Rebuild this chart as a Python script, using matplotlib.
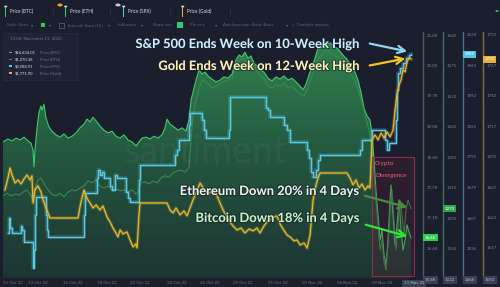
import numpy as np
import matplotlib
matplotlib.use("Agg")
import matplotlib.pyplot as plt
import matplotlib.patheffects as pe
import matplotlib.transforms as mtrans
from matplotlib.colors import LinearSegmentedColormap
from matplotlib.patches import Rectangle, FancyArrowPatch, Circle

plt.rcParams['font.family'] = ['Lato', 'DejaVu Sans']

# ---- data (x = days after 10 Oct 2022 00:00) ----
btc_day = [0.70, 1.08, 1.39, 1.70, 2.00, 2.31, 2.62, 2.85, 3.00, 3.08,
           3.15, 3.31, 3.46, 3.61, 3.69, 3.84, 4.00, 4.22, 4.45, 4.76,
           5.07, 5.37, 5.68, 5.99, 6.29, 6.60, 6.91, 7.14, 7.37, 7.60,
           7.83, 8.13, 8.44, 8.75, 9.05, 9.36, 9.67, 9.97, 10.28, 10.59,
           10.89, 11.05, 11.35, 11.66, 11.96, 12.27, 12.58, 12.88, 13.11, 13.27,
           13.50, 13.80, 14.11, 14.42, 14.72, 14.95, 15.11, 15.26, 15.49, 15.72,
           15.95, 16.18, 16.41, 16.72, 17.02, 17.33, 17.64, 17.94, 18.25, 18.55,
           18.78, 19.01, 19.24, 19.47, 19.70, 19.93, 20.16, 20.39, 20.70, 21.01,
           21.31, 21.62, 21.93, 22.23, 22.54, 22.85, 23.15, 23.46, 23.69, 23.92,
           24.15, 24.38, 24.61, 24.84, 25.14, 25.45, 25.76, 26.06, 26.37, 26.68,
           26.98, 27.29, 27.60, 27.90, 28.13, 28.36, 28.59, 28.82, 28.98, 29.13,
           29.28, 29.44, 29.59, 29.74, 29.90, 30.05, 30.20, 30.36, 30.43, 30.59,
           30.74, 30.89, 31.05, 31.20, 31.35, 31.51, 31.66, 31.81, 31.97]
btc_k = [18.70, 18.76, 18.72, 18.78, 18.74, 18.80, 18.72, 18.67, 18.52, 18.16,
         18.52, 19.00, 19.34, 19.47, 19.38, 19.51, 19.21, 19.02, 18.93, 18.85,
         18.80, 18.87, 18.78, 18.82, 18.89, 19.00, 19.08, 19.19, 19.13, 19.23,
         19.15, 19.04, 18.95, 18.89, 18.93, 18.82, 18.78, 18.85, 18.74, 18.70,
         18.61, 18.67, 18.78, 18.80, 18.76, 18.82, 18.78, 18.85, 19.00, 19.19,
         19.08, 19.02, 18.95, 19.00, 18.93, 19.17, 19.60, 19.77, 20.03, 20.25,
         20.16, 20.20, 20.12, 20.05, 19.99, 20.03, 20.10, 20.07, 20.16, 20.46,
         20.57, 20.53, 20.63, 20.50, 20.55, 20.40, 20.33, 20.25, 20.20, 20.07,
         20.01, 20.10, 20.05, 20.12, 20.03, 20.07, 19.99, 19.90, 19.82, 19.94,
         20.14, 20.33, 20.50, 20.72, 20.79, 20.81, 20.83, 20.76, 20.70, 20.59,
         20.50, 20.38, 20.25, 20.03, 19.77, 19.43, 19.26, 19.17, 18.85, 18.31,
         17.66, 17.12, 16.58, 16.80, 16.26, 16.05, 16.58, 17.45, 17.77, 17.12,
         16.48, 16.91, 17.45, 16.80, 16.37, 16.58, 16.91, 16.76, 16.63]

eth_day = [0.70, 1.01, 1.31, 1.62, 1.93, 2.23, 2.54, 2.77, 3.00, 3.15,
           3.38, 3.61, 3.84, 4.15, 4.45, 4.76, 5.07, 5.37, 5.68, 5.99,
           6.29, 6.60, 6.91, 7.21, 7.52, 7.83, 8.13, 8.44, 8.75, 9.05,
           9.36, 9.67, 9.97, 10.28, 10.59, 10.89, 11.05, 11.28, 11.58, 11.89,
           12.19, 12.50, 12.81, 13.11, 13.42, 13.73, 14.03, 14.34, 14.65, 14.95,
           15.11, 15.26, 15.49, 15.72, 15.95, 16.18, 16.41, 16.72, 17.02, 17.33,
           17.64, 17.94, 18.25, 18.55, 18.86, 19.17, 19.47, 19.78, 20.09, 20.39,
           20.70, 21.01, 21.31, 21.62, 21.93, 22.23, 22.54, 22.85, 23.15, 23.46,
           23.77, 24.07, 24.38, 24.69, 24.99, 25.30, 25.60, 25.91, 26.22, 26.52,
           26.83, 27.14, 27.44, 27.75, 28.06, 28.36, 28.59, 28.82, 28.98, 29.13,
           29.28, 29.44, 29.59, 29.74, 29.90, 30.05, 30.20, 30.36, 30.51, 30.66,
           30.82, 30.97, 31.12, 31.28, 31.43, 31.58, 31.74, 31.97]
eth_usd = [1297, 1303, 1297, 1301, 1299, 1305, 1310, 1301, 1288, 1314,
           1331, 1335, 1323, 1310, 1301, 1297, 1303, 1295, 1305, 1310,
           1308, 1314, 1318, 1329, 1325, 1331, 1318, 1314, 1318, 1310,
           1312, 1308, 1310, 1305, 1310, 1301, 1305, 1325, 1327, 1323,
           1329, 1325, 1335, 1340, 1337, 1346, 1350, 1352, 1348, 1357,
           1416, 1470, 1502, 1527, 1544, 1540, 1536, 1527, 1531, 1536,
           1540, 1544, 1548, 1574, 1587, 1591, 1578, 1582, 1565, 1553,
           1548, 1531, 1527, 1533, 1531, 1538, 1527, 1531, 1523, 1514,
           1510, 1527, 1553, 1578, 1595, 1604, 1608, 1600, 1595, 1587,
           1578, 1565, 1553, 1536, 1510, 1480, 1455, 1427, 1395, 1342,
           1288, 1235, 1182, 1203, 1156, 1139, 1193, 1267, 1310, 1246,
           1182, 1235, 1288, 1256, 1214, 1267, 1288, 1270]

spx_day = [1.08, 1.16, 1.24, 1.39, 2.08, 2.16, 2.31, 3.00, 3.08, 3.15,
           3.23, 4.00, 4.07, 4.15, 6.91, 6.98, 7.90, 7.98, 8.13, 8.29,
           8.44, 8.90, 9.05, 9.28, 9.44, 10.13, 10.28, 10.43, 11.12, 11.20,
           13.88, 14.03, 14.19, 14.95, 15.03, 15.95, 16.10, 16.26, 18.02, 18.09,
           20.85, 21.01, 21.16, 22.23, 22.46, 22.69, 24.00, 24.15, 24.30, 24.46,
           24.69, 24.84, 24.99, 28.06, 28.21, 28.98, 29.82, 29.97, 30.13, 30.28,
           30.82, 30.89, 30.97, 31.12, 31.35, 31.58, 31.81, 31.97]
spx_usd = [3573, 3608, 3584, 3573, 3589, 3580, 3552, 3491, 3533, 3615,
           3657, 3615, 3580, 3563, 3615, 3666, 3701, 3719, 3708, 3715,
           3701, 3682, 3673, 3708, 3701, 3668, 3654, 3645, 3696, 3731,
           3754, 3766, 3789, 3824, 3852, 3836, 3813, 3794, 3813, 3890,
           3864, 3859, 3843, 3824, 3813, 3785, 3766, 3747, 3715, 3703,
           3719, 3743, 3754, 3766, 3789, 3813, 3813, 3789, 3766, 3782,
           3836, 3906, 3945, 3957, 3969, 3980, 3987, 3989]

gold_day = [0.85, 1.08, 1.24, 1.39, 1.62, 1.85, 2.08, 2.31, 2.54, 2.77,
            2.92, 3.00, 3.15, 3.38, 3.61, 3.77, 4.00, 4.30, 6.45, 6.60,
            6.75, 6.91, 7.06, 7.21, 7.37, 7.60, 7.83, 8.13, 8.36, 8.67,
            8.90, 9.13, 9.36, 9.51, 9.67, 9.90, 10.20, 10.43, 10.66, 10.89,
            10.97, 11.12, 11.20, 13.27, 13.50, 13.73, 13.96, 14.26, 14.57, 14.80,
            15.03, 15.26, 15.49, 15.80, 16.03, 16.26, 16.56, 16.79, 17.10, 17.33,
            17.56, 17.87, 18.09, 18.32, 18.63, 18.94, 19.24, 19.55, 19.86, 20.16,
            20.39, 20.70, 20.93, 21.16, 21.47, 21.70, 21.93, 22.16, 22.46, 22.69,
            23.00, 23.23, 23.46, 23.77, 24.00, 24.23, 24.46, 24.69, 24.84, 24.99,
            27.06, 27.29, 27.52, 27.75, 27.98, 28.21, 28.44, 28.67, 28.82, 28.98,
            29.21, 29.44, 29.67, 29.90, 30.13, 30.36, 30.59, 30.74, 30.89, 31.05,
            31.20, 31.35, 31.51, 31.66, 31.81, 31.97]
gold_usd = [1664.6, 1674.4, 1682.6, 1676.9, 1670.3, 1672.8, 1669.5, 1673.6, 1676.9, 1672.8,
            1676.1, 1653.9, 1664.6, 1667.9, 1663.0, 1656.4, 1649.8, 1641.6, 1641.6, 1650.7,
            1658.0, 1664.6, 1659.7, 1656.4, 1653.9, 1649.8, 1652.3, 1648.2, 1651.5, 1642.5,
            1638.4, 1633.4, 1629.3, 1626.1, 1631.8, 1628.5, 1630.2, 1623.6, 1617.9, 1620.3,
            1617.0, 1644.1, 1653.9, 1653.9, 1648.2, 1645.7, 1649.8, 1644.1, 1647.4, 1643.3,
            1649.8, 1656.4, 1662.1, 1670.3, 1666.2, 1663.0, 1662.1, 1664.6, 1659.7, 1653.9,
            1648.2, 1642.5, 1638.4, 1635.1, 1631.8, 1633.4, 1629.3, 1632.6, 1631.0, 1633.4,
            1629.3, 1635.1, 1638.4, 1640.0, 1642.5, 1643.3, 1636.7, 1632.6, 1627.7, 1626.1,
            1622.8, 1623.6, 1619.5, 1621.1, 1617.0, 1627.7, 1656.4, 1668.7, 1674.4, 1678.5,
            1678.5, 1674.4, 1668.7, 1672.8, 1666.2, 1669.5, 1664.6, 1667.9, 1666.2, 1705.6,
            1709.7, 1705.6, 1711.3, 1707.2, 1712.2, 1708.1, 1713.8, 1730.2, 1742.5, 1750.7,
            1754.8, 1763.0, 1761.4, 1769.6, 1772.8, 1771.9]

# axis ranges and ticks of the four price scales
btc_lim = (15.766, 21.065)
eth_lim = (1122.2, 1646.4)
spx_lim = (3467.8, 4040.9)
gold_lim = (1592.4, 1794.1)
btc_ticks = [21.00, 20.34, 19.69, 19.03, 18.37, 17.72, 17.06, 16.40]
eth_ticks = [1640, 1575, 1510, 1445, 1380, 1315, 1250, 1185]
spx_ticks = [4034, 3963, 3892, 3821, 3750, 3679, 3607, 3536]
gold_ticks = [1792, 1767, 1742, 1717, 1692, 1667, 1642, 1617]

date_ticks = [1.47, 3.38, 6.06, 8.67, 11.20, 14.03, 16.56, 19.09, 21.78, 24.38, 27.06, 29.74]
date_labels = ['11 Oct 22', '13 Oct 22', '16 Oct 22', '18 Oct 22', '21 Oct 22', '24 Oct 22',
               '26 Oct 22', '29 Oct 22', '31 Oct 22', '03 Nov 22', '06 Nov 22', '08 Nov 22']

legend_vals = ['$16,634.01', '$1,270.38', '$3,988.91', '$1,771.90']
legend_names = ['Price (BTC)', 'Price (ETH)', 'Price (SPX)', 'Price (Gold)']

BG = '#1b1e2d'
GREY = '#70758a'
W, H = 500, 287


def fx(x):
    return x / W


def fy(y):
    return 1 - y / H


fig = plt.figure(figsize=(5, 2.87), dpi=100, facecolor=BG)
ax = fig.add_axes([fx(3), fy(278), 412 / W, 246 / H])
ax.set_facecolor('none')
ax_eth = ax.twinx()
ax_spx = ax.twinx()
ax_gold = ax.twinx()
ax.set_xlim(0.7, 32.27)

# watermark
fig.text(fx(205), fy(152), 'santiment', fontsize=27, color='white', alpha=0.04,
         ha='center', va='center', zorder=0)

# BTC area with vertical gradient
ax.set_ylim(*btc_lim)
area = ax.fill_between(btc_day, btc_k, btc_lim[0], facecolor='none', edgecolor='none')
cmap = LinearSegmentedColormap.from_list('btc', ['#1c3532', '#24553f', '#30824f'])
grad = np.linspace(0, 1, 256).reshape(-1, 1)
im = ax.imshow(grad, cmap=cmap, aspect='auto', origin='lower', zorder=1,
               extent=[btc_day[0], btc_day[-1], btc_lim[0], max(btc_k)])
im.set_clip_path(area.get_paths()[0], transform=ax.transData)
ax.plot(btc_day, btc_k, color='#3fca6a', lw=0.8, zorder=2)
ax.set_xlim(0.7, 32.27)
ax.set_ylim(*btc_lim)

ax_eth.plot(eth_day, eth_usd, color='#3b8a52', lw=0.75)
ax_eth.set_ylim(*eth_lim)

glow_c = [pe.Stroke(linewidth=2.6, foreground='#5bc8e0', alpha=0.25), pe.Normal()]
ax_spx.plot(spx_day, spx_usd, color='#5cc9e4', lw=1.0, drawstyle='steps-post', path_effects=glow_c)
ax_spx.set_ylim(*spx_lim)

glow_g = [pe.Stroke(linewidth=2.4, foreground='#e8b530', alpha=0.25), pe.Normal()]
ax_gold.plot(gold_day, gold_usd, color='#e9b733', lw=0.9, path_effects=glow_g)
ax_gold.set_ylim(*gold_lim)

# right-hand price scales
scales = [
    (ax, btc_ticks, ['%.1fK' % v for v in btc_ticks], '#46625f', 423),
    (ax_eth, eth_ticks, [str(v) for v in eth_ticks], '#43705a', 443),
    (ax_spx, spx_ticks, [str(v) for v in spx_ticks], '#45718f', 463),
    (ax_gold, gold_ticks, [str(v) for v in gold_ticks], '#806f38', 483),
]
for a, ticks, labels, c, xpix in scales:
    for s in a.spines.values():
        s.set_visible(False)
    a.spines['right'].set_visible(True)
    a.spines['right'].set_position(('axes', (xpix - 3) / 412))
    a.spines['right'].set_color(c)
    a.spines['right'].set_linewidth(1.0)
    a.yaxis.set_ticks_position('right')
    a.set_yticks(ticks)
    a.set_yticklabels(labels)
    a.tick_params(axis='y', length=0, pad=2.5, labelsize=3.2, labelcolor='#7a7f93')

ax.set_xticks(date_ticks)
ax.set_xticklabels(date_labels)
ax.tick_params(axis='x', length=0, pad=2.5, labelsize=3.2, labelcolor=GREY)

# current value tags on the scales
tags = [
    (ax, btc_k[-1], '%.1fK' % btc_k[-1], '#2fcf50', 423),
    (ax_eth, eth_usd[-1], str(eth_usd[-1]), '#2aa84a', 443),
    (ax_spx, spx_usd[-1], str(spx_usd[-1]), '#55c4e6', 463),
    (ax_gold, gold_usd[-1], '%.0f' % gold_usd[-1], '#e4b43a', 483),
]
for a, v, txt, c, xpix in tags:
    tr = mtrans.blended_transform_factory(a.transAxes, a.transData)
    a.text((xpix - 3) / 412 + 0.004, v, txt, transform=tr, fontsize=3.2, color='white',
           va='center', ha='left', clip_on=False,
           bbox=dict(boxstyle='square,pad=0.35', fc=c, ec='none'))

bottom_tags = [('%.1fK' % btc_lim[0], 423), ('%.0f' % eth_lim[0], 443),
               ('%.0f' % spx_lim[0], 463), ('%.0f' % gold_lim[0], 483)]
for txt, xpix in bottom_tags:
    fig.text(fx(xpix + 2), fy(280), txt, fontsize=3.2, color='#b4b8c8', va='center', ha='left',
             bbox=dict(boxstyle='square,pad=0.35', fc='#3a3f52', ec='none'))
fig.text(fx(404), fy(283.5), '11 Nov 22', fontsize=3.2, color='#c0c4d2', va='center', ha='left',
         bbox=dict(boxstyle='square,pad=0.35', fc='#3a3f52', ec='none'))

# crypto divergence box
fig.add_artist(Rectangle((fx(372), fy(276)), 42 / W, 119 / H, transform=fig.transFigure,
                         facecolor='#6a1f3a', alpha=0.22, edgecolor='none', zorder=1))
fig.add_artist(Rectangle((fx(372), fy(276)), 42 / W, 119 / H, transform=fig.transFigure,
                         facecolor='none', edgecolor='#8e2e4c', lw=0.8, zorder=1))
fig.text(fx(375), fy(163), 'Crypto', fontsize=4.5, color='#f0607a', va='center')
fig.text(fx(375), fy(175), 'Divergence', fontsize=4.5, color='#f0607a', va='center')

# headline annotations with arrows
halo = [pe.withStroke(linewidth=1.6, foreground=BG, alpha=0.6)]
notes = [
    ('S&P 500 Ends Week on 10-Week High', 44, '#cdeeff', '#8fd4f0', (367, 43), (410, 52)),
    ('Gold Ends Week on 12-Week High', 66, '#fff3b5', '#f4c51c', (367, 66), (408, 58)),
    ('Ethereum Down 20% in 4 Days', 191, '#e8f2e8', '#4a8a45', (362, 195), (410, 208)),
    ('Bitcoin Down 18% in 4 Days', 218, '#c2f5c2', '#2ee82e', (363, 224), (410, 237)),
]
for txt, ypix, tc, ac, p0, p1 in notes:
    fig.text(fx(359), fy(ypix), txt, fontsize=9.3, fontweight='bold', color=tc,
             ha='right', va='center', path_effects=halo)
    fig.add_artist(FancyArrowPatch(posA=(fx(p0[0]), fy(p0[1])), posB=(fx(p1[0]), fy(p1[1])),
                                   transform=fig.transFigure, arrowstyle='->',
                                   mutation_scale=13, lw=1.6, color=ac, zorder=4))

# legend box
fig.add_artist(Rectangle((fx(3), fy(80)), 75 / W, 47 / H, transform=fig.transFigure,
                         facecolor='#1f2335', edgecolor='#262b3f', lw=0.5, zorder=2))
fig.text(fx(10), fy(38.5), '11:00, November 11, 2022', fontsize=3.2, color=GREY, va='center')
legend_colors = ['#3fca6a', '#3b8a52', '#5cc9e4', '#e9b733']
for i, (val, name, c) in enumerate(zip(legend_vals, legend_names, legend_colors)):
    yy = 52.7 + i * 6.8
    fig.add_artist(Rectangle((fx(9), fy(yy) - 0.4 / H), 3 / W, 1.2 / H, transform=fig.transFigure,
                             facecolor=c, edgecolor='none', zorder=3))
    fig.text(fx(15), fy(yy), val, fontsize=3.0, color='#d8dbe6', va='center')
    fig.text(fx(40), fy(yy), name, fontsize=3.0, color=GREY, va='center')

# toolbar row 1
pins = [(5, '#3fca6a'), (65, '#3fca6a'), (123, '#5cc9e4'), (182, '#e9b733')]
for (xpix, c), name in zip(pins, legend_names):
    fig.add_artist(Rectangle((fx(xpix), fy(17)), 1.4 / W, 10 / H, transform=fig.transFigure,
                             facecolor=c, edgecolor='none'))
    fig.add_artist(Circle((fx(xpix + 0.7), fy(6.5)), 1.6 / W, transform=fig.transFigure,
                          facecolor='#d8dbe6', edgecolor='none'))
    fig.text(fx(xpix + 5), fy(11.5), name, fontsize=3.4, color='#d8dbe6', va='center')
fig.add_artist(Circle((fx(60), fy(5)), 2.6 / W, transform=fig.transFigure, facecolor='#f0a030', edgecolor='none'))
fig.add_artist(Circle((fx(118), fy(5)), 2.6 / W, transform=fig.transFigure, facecolor='#c8cad2', edgecolor='none'))
for xpix in [53, 110, 170, 230]:
    fig.text(fx(xpix), fy(11.5), '⋮', fontsize=3.6, color=GREY, va='center', ha='center')
fig.add_artist(Circle((fx(497), fy(11)), 1.6 / W, transform=fig.transFigure, facecolor='#2ecc40', edgecolor='none'))

# toolbar row 2
row2 = [(7, 'Style: Area'), (31, '▾'), (49, '▾'), (68, 'Interval: Auto (1h)'), (108, '▾'),
        (118, 'Indicators'), (141, '▾'), (153, 'Show axis'), (190, 'Pin axis'), (215, '▾'),
        (223, 'Axis Inversion: Auto/Auto'), (286, '▾'), (292, '+  Combine metrics')]
for xpix, txt in row2:
    fig.text(fx(xpix), fy(25), txt, fontsize=3.2, color='#5f6478', va='center')
fig.add_artist(Rectangle((fx(41), fy(27)), 4 / W, 4 / H, transform=fig.transFigure,
                         facecolor='#2ecc40', edgecolor='none'))
fig.add_artist(Rectangle((fx(59), fy(27.5)), 5 / W, 5 / H, transform=fig.transFigure,
                         facecolor='none', edgecolor='#5f6478', lw=0.5))
fig.add_artist(Rectangle((fx(177), fy(28)), 6 / W, 6 / H, transform=fig.transFigure,
                         facecolor='#2ecc71', edgecolor='none'))

fig.savefig('out.png', dpi=100, facecolor=BG)
